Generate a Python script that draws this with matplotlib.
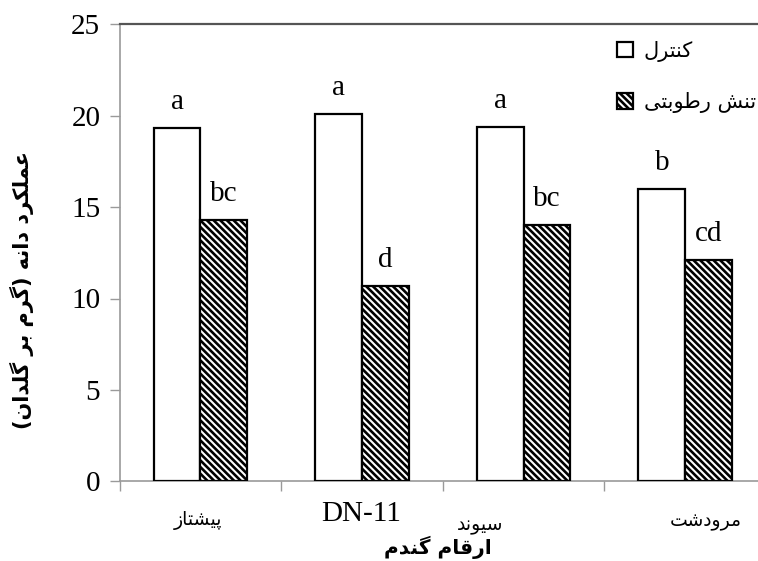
import matplotlib
matplotlib.use("Agg")
import numpy as np
import matplotlib.pyplot as plt
from matplotlib.patches import Patch

# data
cultivars = ["پیشتاز", "DN-11", "سیوند", "مرودشت"]
control = [19.3, 20.1, 19.4, 16.0]
stress = [14.3, 10.7, 14.0, 12.1]
control_letters = ["a", "a", "a", "b"]
stress_letters = ["bc", "d", "bc", "cd"]
legend_labels = ["کنترل", "تنش رطوبتی"]
x_title = "ارقام گندم"
y_title = "عملکرد دانه (گرم بر گلدان)"
y_ticks = [0, 5, 10, 15, 20, 25]

# matplotlib does no arabic shaping: pick contextual forms and reverse by hand
# letter: (isolated, final, initial, medial)
FORMS = {
    "ا": (0xFE8D, 0xFE8E, None, None),
    "ب": (0xFE8F, 0xFE90, 0xFE91, 0xFE92),
    "پ": (0xFB56, 0xFB57, 0xFB58, 0xFB59),
    "ت": (0xFE95, 0xFE96, 0xFE97, 0xFE98),
    "د": (0xFEA9, 0xFEAA, None, None),
    "ر": (0xFEAD, 0xFEAE, None, None),
    "ز": (0xFEAF, 0xFEB0, None, None),
    "س": (0xFEB1, 0xFEB2, 0xFEB3, 0xFEB4),
    "ش": (0xFEB5, 0xFEB6, 0xFEB7, 0xFEB8),
    "ط": (0xFEC1, 0xFEC2, 0xFEC3, 0xFEC4),
    "ع": (0xFEC9, 0xFECA, 0xFECB, 0xFECC),
    "ق": (0xFED5, 0xFED6, 0xFED7, 0xFED8),
    "ک": (0xFB8E, 0xFB8F, 0xFB90, 0xFB91),
    "گ": (0xFB92, 0xFB93, 0xFB94, 0xFB95),
    "ل": (0xFEDD, 0xFEDE, 0xFEDF, 0xFEE0),
    "م": (0xFEE1, 0xFEE2, 0xFEE3, 0xFEE4),
    "ن": (0xFEE5, 0xFEE6, 0xFEE7, 0xFEE8),
    "ه": (0xFEE9, 0xFEEA, 0xFEEB, 0xFEEC),
    "و": (0xFEED, 0xFEEE, None, None),
    "ی": (0xFBFC, 0xFBFD, 0xFBFE, 0xFBFF),
}


def fa(text):
    if not any(c in FORMS for c in text):
        return text
    out = []
    for i, c in enumerate(text):
        if c not in FORMS:
            out.append(c)
            continue
        prev = text[i - 1] if i > 0 else ""
        nxt = text[i + 1] if i + 1 < len(text) else ""
        jp = prev in FORMS and FORMS[prev][2] is not None
        jn = nxt in FORMS and FORMS[c][2] is not None
        iso, fin, ini, med = FORMS[c]
        if jp and jn:
            g = med
        elif jp:
            g = fin
        elif jn:
            g = ini
        else:
            g = iso
        out.append(chr(g))
    s = "".join(out)[::-1]
    return s.translate(str.maketrans("()", ")("))


SERIF = ["Liberation Serif", "DejaVu Sans"]
FA = ["DejaVu Sans"]
HATCH = "\\\\\\\\\\"
plt.rcParams["hatch.linewidth"] = 1.9
plt.rcParams["hatch.color"] = "black"

fig = plt.figure(figsize=(7.58, 5.61), dpi=100)
ax = fig.add_axes([119.7 / 758, (561 - 481.3) / 561, (766 - 119.7) / 758, (481.3 - 24.3) / 561])

x = np.arange(len(cultivars))
w = 0.29
b1 = ax.bar(x - w / 2, control, w, color="white", edgecolor="black", linewidth=1.6, zorder=3)
b2 = ax.bar(x + w / 2, stress, w, color="white", edgecolor="black", linewidth=1.6,
            hatch=HATCH, zorder=3)

for rect, lab in zip(list(b1) + list(b2), control_letters + stress_letters):
    ax.annotate(lab, xy=(rect.get_x() + rect.get_width() / 2, rect.get_height()),
                xytext=(0, 19), textcoords="offset pixels", ha="center", va="baseline",
                fontsize=21, family=SERIF)

ax.set_xlim(-0.5, 3.5)
ax.set_ylim(0, 25)
ax.set_yticks(y_ticks)
ax.set_xticks(np.arange(len(cultivars) + 1) - 0.5)
ax.set_xticklabels([])
ax.tick_params(axis="both", direction="out", length=7, width=1, color="#9a9a9a")
ax.tick_params(axis="y", pad=7, labelsize=21)
for t in ax.get_yticklabels():
    t.set_family(SERIF)
ax.spines["right"].set_visible(False)
ax.spines["left"].set_color("#9a9a9a")
ax.spines["bottom"].set_color("#9a9a9a")
ax.spines["left"].set_linewidth(1.2)
ax.spines["bottom"].set_linewidth(1.2)
ax.spines["top"].set_color("#555555")
ax.spines["top"].set_linewidth(1.6)

# category names, nudged like in the original
label_dx = [-3, -1, -44, 21]
label_dy = [-39, -33, -44, -40]
for i, name in enumerate(cultivars):
    is_fa = name != fa(name)
    ax.annotate(fa(name), xy=(i, 0), xycoords=("data", "axes fraction"),
                xytext=(label_dx[i], label_dy[i]), textcoords="offset pixels",
                ha="center", va="center",
                fontsize=13.5 if is_fa else 21, family=FA if is_fa else SERIF)

fig.text(438 / 758, 1 - 547 / 561, fa(x_title), ha="center", va="center",
         fontsize=14.5, family=FA, fontweight="bold")
fig.text(22 / 758, 1 - 290 / 561, fa(y_title), ha="center", va="center",
         rotation=90, fontsize=15, family=FA, fontweight="bold")

handles = [Patch(facecolor="white", edgecolor="black", linewidth=1.6),
           Patch(facecolor="white", edgecolor="black", linewidth=1.6, hatch=HATCH)]
ax.legend(handles, [fa(s) for s in legend_labels], loc="upper left",
          bbox_to_anchor=(598 / 758, 1 - 22 / 561), bbox_transform=fig.transFigure,
          frameon=False, handlelength=0.8, handleheight=0.8, handletextpad=0.5,
          labelspacing=1.45, prop={"family": FA, "size": 15})

fig.savefig("out.png", dpi=100)
